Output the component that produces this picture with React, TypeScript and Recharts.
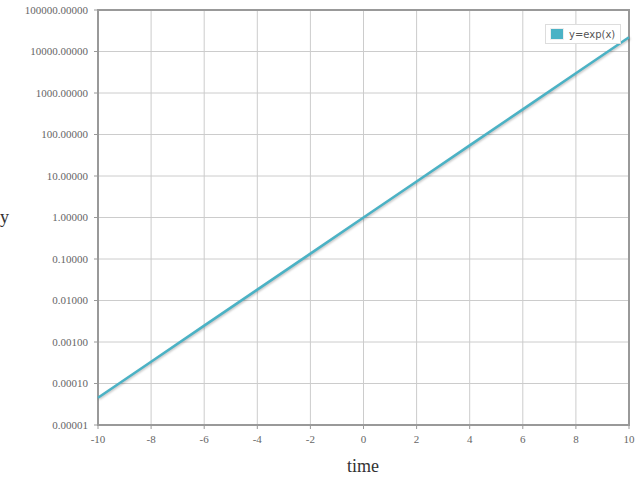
import { CartesianGrid, Line, LineChart, ReferenceArea, XAxis, YAxis } from "recharts";

const timeValues = [-10, -8, -6, -4, -2, 0, 2, 4, 6, 8, 10];
const expValues = [0.0000454, 0.000335, 0.00248, 0.0183, 0.135, 1, 7.39, 54.6, 403, 2981, 22026];
const xTicks = [-10, -8, -6, -4, -2, 0, 2, 4, 6, 8, 10];
const yTicks = [0.00001, 0.0001, 0.001, 0.01, 0.1, 1, 10, 100, 1000, 10000, 100000];

const data = timeValues.map((t, i) => ({ time: t, y: expValues[i] }));

const tickStyle = { fontSize: 11, fill: "#666", fontFamily: "'Liberation Serif', serif" };

export default function App() {
  return (
    <div style={{ position: "absolute", left: 0, top: 0, width: 642, height: 490, background: "#fff" }}>
      <style>{`.exp-line path { filter: drop-shadow(1.5px 1.5px 1px rgba(0,0,0,0.25)); }`}</style>
      <LineChart width={642} height={490} data={data} margin={{ top: 10, right: 13, left: 0, bottom: 0 }}>
        <CartesianGrid stroke="#cccccc" strokeWidth={1} horizontalValues={yTicks} verticalValues={xTicks} />
        <XAxis
          dataKey="time"
          type="number"
          domain={[-10, 10]}
          ticks={xTicks}
          height={65}
          tick={tickStyle}
          tickSize={4}
          tickMargin={6}
          stroke="#999"
          axisLine={false}
          interval={0}
        />
        <YAxis
          type="number"
          scale="log"
          domain={[0.00001, 100000]}
          ticks={yTicks}
          allowDataOverflow
          width={98}
          tick={tickStyle}
          tickSize={4}
          tickMargin={6}
          stroke="#999"
          axisLine={false}
          interval={0}
          tickFormatter={(v: number) => v.toFixed(5)}
        />
        <ReferenceArea
          x1={-10}
          x2={10}
          y1={0.00001}
          y2={100000}
          fill="none"
          fillOpacity={0}
          stroke="#999"
          strokeWidth={2}
          ifOverflow="visible"
        />
        <Line
          className="exp-line"
          type="linear"
          dataKey="y"
          stroke="#4bb2c5"
          strokeWidth={2.5}
          dot={false}
          isAnimationActive={false}
        />
      </LineChart>
      <div
        style={{
          position: "absolute",
          left: 545,
          top: 24,
          border: "1px solid #ddd",
          background: "#fff",
          padding: "3px 5px 3px 4px",
          display: "flex",
          alignItems: "center",
          fontFamily: "'DejaVu Sans', sans-serif",
          fontSize: 10,
          color: "#555",
        }}
      >
        <span style={{ display: "inline-block", width: 12, height: 10, background: "#4bb2c5", marginRight: 5, border: "1px solid #eee" }} />
        y=exp(x)
      </div>
      <div style={{ position: "absolute", left: 0, top: 207, fontFamily: "'Liberation Serif', serif", fontSize: 18, color: "#333" }}>y</div>
      <div style={{ position: "absolute", left: 347, top: 456, fontFamily: "'Liberation Serif', serif", fontSize: 18, color: "#333" }}>time</div>
    </div>
  );
}
